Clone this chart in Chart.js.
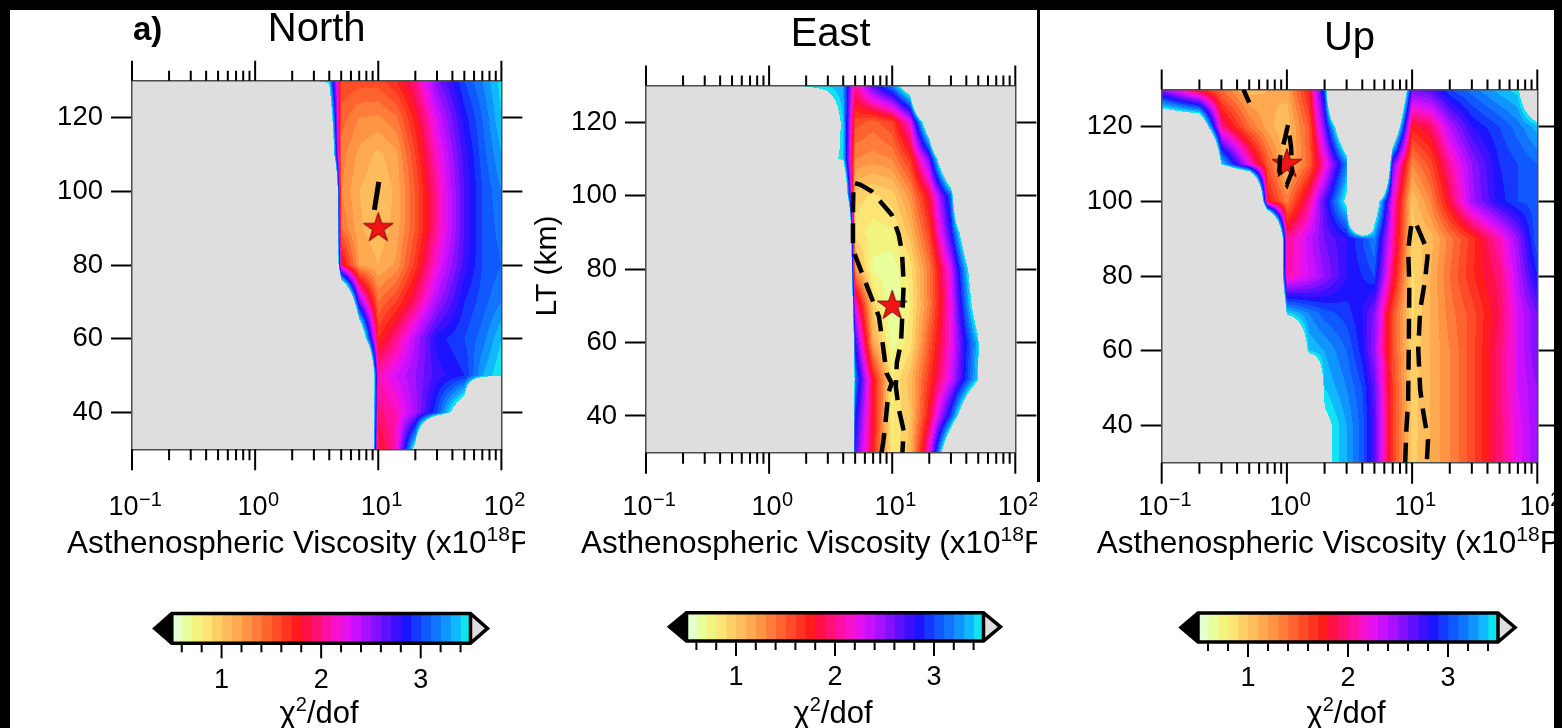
<!DOCTYPE html>
<html>
<head>
<meta charset="utf-8">
<title>Asthenospheric viscosity vs LT misfit</title>
<script src="https://cdn.jsdelivr.net/npm/chart.js"></script>
<style>
  html, body { margin: 0; padding: 0; }
  body { width: 1562px; height: 728px; background: #000; position: relative; overflow: hidden; }
  #sheet { position: absolute; left: 10px; top: 10px; width: 1544px; height: 718px; background: #fff; }
  #divider { position: absolute; left: 1037px; top: 10px; width: 3px; height: 472px; background: #000; }
  canvas { position: absolute; }
</style>
</head>
<body>
<div id="sheet"></div>
<canvas id="north" width="515" height="560" style="left:10px;top:10px"></canvas>
<canvas id="east" width="512" height="560" style="left:525px;top:10px"></canvas>
<canvas id="up" width="514" height="560" style="left:1040px;top:10px"></canvas>
<div id="divider"></div>
<canvas id="cbNorth" width="370" height="133" style="left:140px;top:595px"></canvas>
<canvas id="cbEast" width="370" height="133" style="left:650px;top:595px"></canvas>
<canvas id="cbUp" width="380" height="133" style="left:1160px;top:595px"></canvas>
<script>
const FONT = '"Liberation Sans", Arial, Helvetica, sans-serif';
const G = 9; // above the top of the colour scale -> grey

// grid nodes: viscosity (x10^18 Pa s) and LT (km), rows from top (130) to bottom (30)
const viscNodes = [0.1, 0.2, 0.3, 0.5, 0.7, 1, 1.5, 2, 3, 4, 5, 7, 10, 14, 20, 30, 50, 70, 100];
const ltNodes = [130, 120, 110, 100, 90, 80, 70, 60, 50, 40, 30];

// chi^2/dof
const northChi = [
  [G, G, G, G, G, G, G, 3.55, 3.45, 3.4, 1.6, 1.55, 1.55, 1.7, 2.0, 2.55, 3.0, 3.2, 3.45],
  [G, G, G, G, G, G, G, G, G, 4.2, 1.45, 1.3, 1.28, 1.38, 1.75, 2.3, 2.85, 3.1, 3.4],
  [G, G, G, G, G, G, G, G, G, 5, 1.35, 1.17, 1.07, 1.17, 1.6, 2.15, 2.75, 3.05, 3.3],
  [G, G, G, G, G, G, G, G, G, G, 1.3, 1.1, 1.02, 1.12, 1.5, 2.05, 2.7, 3.0, 3.2],
  [G, G, G, G, G, G, G, G, G, G, 1.4, 1.12, 1.03, 1.14, 1.5, 2.05, 2.7, 3.0, 3.15],
  [G, G, G, G, G, G, G, G, G, G, 1.9, 1.2, 1.1, 1.22, 1.65, 2.2, 2.75, 3.0, 3.1],
  [G, G, G, G, G, G, G, G, G, G, 6, 2.6, 1.4, 1.6, 1.95, 2.45, 2.9, 3.05, 3.2],
  [G, G, G, G, G, G, G, G, G, G, G, 4.5, 1.7, 2.0, 2.4, 2.85, 3.0, 3.15, 3.4],
  [G, G, G, G, G, G, G, G, G, G, G, G, 2.1, 2.3, 2.5, 2.75, 2.9, 3.3, 3.5],
  [G, G, G, G, G, G, G, G, G, G, G, G, 1.95, 2.1, 2.45, 3.0, 4.0, G, G],
  [G, G, G, G, G, G, G, G, G, G, G, G, 1.75, 2.1, 3.7, G, G, G, G]
];
const eastChi = [
  [G, G, G, G, G, 3.45, 3.45, 3.45, 3.4, 3.3, 2.0, 2.7, 3.2, 4.0, G, G, G, G, G],
  [G, G, G, G, G, G, G, 5, 4.0, 3.4, 1.55, 1.45, 1.6, 2.2, 4.2, G, G, G, G],
  [G, G, G, G, G, G, G, G, 3.6, 3.45, 1.3, 1.25, 1.3, 1.65, 2.6, 5.0, G, G, G],
  [G, G, G, G, G, G, G, G, G, 5, 0.95, 0.88, 0.95, 1.25, 1.85, 3.1, G, G, G],
  [G, G, G, G, G, G, G, G, G, G, 0.85, 0.75, 0.78, 1.05, 1.6, 2.8, 5.0, G, G],
  [G, G, G, G, G, G, G, G, G, G, 1.2, 0.68, 0.62, 0.85, 1.35, 2.3, 4.2, G, G],
  [G, G, G, G, G, G, G, G, G, G, 2.2, 0.95, 0.58, 0.8, 1.35, 2.2, 3.9, G, G],
  [G, G, G, G, G, G, G, G, G, G, 2.8, 1.15, 0.65, 0.85, 1.5, 2.2, 3.4, G, G],
  [G, G, G, G, G, G, G, G, G, G, 3.2, 1.8, 0.8, 1.05, 1.65, 2.3, 3.45, G, G],
  [G, G, G, G, G, G, G, G, G, G, 2.9, 1.8, 0.78, 1.0, 1.8, 3.0, 5.0, G, G],
  [G, G, G, G, G, G, G, G, G, G, 2.7, 1.75, 0.8, 1.05, 2.2, 4.5, G, G, G]
];
const upChi = [
  [2.5, 1.7, 1.4, 1.05, 1.1, 1.15, 1.75, 3.0, G, G, G, 6, 2.6, 2.7, 3.0, 3.15, 3.35, 3.45, 4.5],
  [4.5, 4.5, 2.0, 1.4, 1.15, 1.0, 1.5, 2.6, 4.5, G, G, 4.5, 1.75, 1.9, 2.4, 2.8, 3.0, 3.15, 3.35],
  [G, G, 3.45, 2.2, 1.5, 1.0, 1.45, 2.1, 3.2, G, G, 2.6, 1.3, 1.55, 2.05, 2.5, 2.9, 3.0, 3.1],
  [G, G, G, G, 1.8, 1.35, 2.0, 2.7, 3.6, G, 4.0, 2.2, 1.0, 1.3, 1.85, 2.45, 2.85, 3.0, 3.05],
  [G, G, G, G, G, 2.0, 2.35, 2.6, 2.8, 3.0, 3.2, 2.1, 0.95, 1.05, 1.35, 1.65, 2.1, 2.5, 3.1],
  [G, G, G, G, G, 2.05, 2.3, 2.5, 2.8, 2.9, 3.0, 1.9, 0.88, 1.1, 1.4, 1.68, 1.95, 2.4, 2.9],
  [G, G, G, G, G, 3.45, 3.2, 3.05, 2.95, 2.8, 2.55, 1.55, 0.88, 1.1, 1.35, 1.55, 1.9, 2.3, 2.6],
  [G, G, G, G, G, 5, 3.4, 3.3, 3.1, 2.85, 2.5, 1.55, 0.92, 1.1, 1.3, 1.55, 1.95, 2.3, 2.6],
  [G, G, G, G, G, G, 5, 3.4, 3.2, 3.0, 2.65, 1.6, 0.95, 1.1, 1.3, 1.55, 1.95, 2.3, 2.5],
  [G, G, G, G, G, G, G, 3.6, 3.3, 3.05, 2.7, 1.6, 0.95, 1.1, 1.3, 1.55, 1.95, 2.25, 2.5],
  [G, G, G, G, G, G, G, 3.6, 3.3, 3.05, 2.7, 1.6, 0.97, 1.1, 1.3, 1.55, 1.95, 2.25, 2.5]
];

// best-fit models (viscosity, LT)
const northStar = [10, 90];
const eastStar = [10, 70];
const upStar = [1, 110];

// dashed confidence contours as [viscosity, LT] points
const northContours = [
  [[9.3, 95], [10.1, 102.6]]
];
const eastContours = [
  [[8.2, 30], [8.5, 33.5], [8.8, 38], [9.3, 46.2], [9.9, 48.9], [9.0, 51.6], [8.5, 58], [7.8, 67.1],
   [6.4, 74.4], [4.8, 85.3], [4.8, 96], [4.85, 103.5], [5.5, 103], [6.8, 101.2], [9.9, 94.8],
   [11.3, 89.4], [12.0, 84.8], [12.4, 76], [12.1, 68], [11.8, 60], [10.9, 54.5], [10.7, 48],
   [11.3, 42], [12.4, 36], [12.1, 30]]
];
const upContours = [
  [[0.45, 130], [0.5, 126.5]],
  [[1.02, 120.5], [0.95, 116], [0.88, 111.5], [0.87, 108], [1.0, 104.5], [1.1, 108], [1.08, 114.5], [1.02, 120.5]],
  [[8.8, 30], [9.0, 38.8], [9.3, 46.8], [9.4, 60], [9.5, 78], [9.3, 87], [9.9, 94.3], [10.6, 94.5],
   [12.3, 89.4], [13.4, 86.5], [12.7, 79], [11.6, 71], [11.2, 60.3], [11.6, 49.6], [12.3, 43.4],
   [13.4, 36.1], [13.1, 30]]
];

// colour scale: 0.1 wide bands from 0.5 to 3.5
const levels = [0.5, 0.6, 0.7, 0.8, 0.9, 1.0, 1.1, 1.2, 1.3, 1.4, 1.5, 1.6, 1.7, 1.8, 1.9, 2.0,
  2.1, 2.2, 2.3, 2.4, 2.5, 2.6, 2.7, 2.8, 2.9, 3.0, 3.1, 3.2, 3.3, 3.4, 3.5];
const levelColors = ['#e4ffd0', '#e8ff9c', '#f2f480', '#fde474', '#ffd066', '#ffbc5c', '#ffaa50',
  '#ff9444', '#ff7c3a', '#ff6430', '#ff4c28', '#ff3420', '#ff1c1c', '#ff1044', '#ff1072', '#ff10a2',
  '#f810cc', '#e410ee', '#c810ff', '#a810ff', '#8410ff', '#6010ff', '#3c10ff', '#1c14ff', '#1438ff',
  '#1058ff', '#1074ff', '#1094ff', '#10b8ff', '#10e4f0'];

// axis ticks
const viscTicks = [0.1, 0.2, 0.3, 0.4, 0.5, 0.6, 0.7, 0.8, 0.9, 1, 2, 3, 4, 5, 6, 7, 8, 9,
  10, 20, 30, 40, 50, 60, 70, 80, 90, 100];
const viscMajor = [0.1, 1, 10, 100];
const viscExp = ['\u22121', '0', '1', '2'];
const ltTicks = [40, 60, 80, 100, 120];
const cbTicks = [0.6, 0.8, 1, 1.2, 1.4, 1.6, 1.8, 2, 2.2, 2.4, 2.6, 2.8, 3, 3.2, 3.4];
const cbLabels = [1, 2, 3];

Chart.defaults.font.family = FONT;

const levelRgb = levelColors.map(h => [parseInt(h.slice(1, 3), 16), parseInt(h.slice(3, 5), 16), parseInt(h.slice(5, 7), 16)]);
const GREY = [222, 222, 222];

// filled contour field, drawn under the axes
function fieldPlugin(chi) {
  return {
    id: 'field',
    beforeDraw(chart) {
      const a = chart.chartArea, xs = chart.scales.x, ys = chart.scales.y;
      const x0 = Math.floor(a.left), y0 = Math.floor(a.top);
      const w = Math.ceil(a.right) - x0, h = Math.ceil(a.bottom) - y0;
      const off = document.createElement('canvas');
      off.width = w; off.height = h;
      const octx = off.getContext('2d');
      const img = octx.createImageData(w, h);
      const un = viscNodes.map(v => Math.log10(v));
      const ci = [], ct = [];
      for (let px = 0; px < w; px++) {
        const u = Math.log10(xs.getValueForPixel(x0 + px + 0.5));
        let i = 0;
        while (i < un.length - 2 && u > un[i + 1]) i++;
        ci.push(i);
        ct.push(Math.min(1, Math.max(0, (u - un[i]) / (un[i + 1] - un[i]))));
      }
      for (let py = 0; py < h; py++) {
        const lt = ys.getValueForPixel(y0 + py + 0.5);
        let j = 0;
        while (j < ltNodes.length - 2 && lt < ltNodes[j + 1]) j++;
        const s = Math.min(1, Math.max(0, (ltNodes[j] - lt) / (ltNodes[j] - ltNodes[j + 1])));
        const r0 = chi[j], r1 = chi[j + 1];
        for (let px = 0; px < w; px++) {
          const i = ci[px], t = ct[px];
          const top = r0[i] + (r0[i + 1] - r0[i]) * t;
          const bot = r1[i] + (r1[i + 1] - r1[i]) * t;
          const val = top + (bot - top) * s;
          let c;
          if (val >= levels[levels.length - 1]) c = GREY;
          else if (val < levels[0]) c = [0, 0, 0];
          else {
            let k = 0;
            while (k < levelRgb.length - 1 && val >= levels[k + 1]) k++;
            c = levelRgb[k];
          }
          const o = (py * w + px) * 4;
          img.data[o] = c[0]; img.data[o + 1] = c[1]; img.data[o + 2] = c[2]; img.data[o + 3] = 255;
        }
      }
      octx.putImageData(img, 0, 0);
      const ctx = chart.ctx;
      ctx.save();
      ctx.beginPath();
      ctx.rect(a.left, a.top, a.right - a.left, a.bottom - a.top);
      ctx.clip();
      ctx.drawImage(off, x0, y0);
      ctx.restore();
    }
  };
}

// log ticks, 10^n labels and titles
function textPlugin(cfg) {
  return {
    id: 'panelText',
    afterDraw(chart) {
      const ctx = chart.ctx, a = chart.chartArea, xs = chart.scales.x;
      ctx.save();
      ctx.strokeStyle = '#000';
      ctx.lineWidth = 2;
      viscTicks.forEach(v => {
        const px = xs.getPixelForValue(v);
        const major = viscMajor.includes(v);
        ctx.beginPath();
        ctx.moveTo(px, a.bottom);
        ctx.lineTo(px, a.bottom + (major ? 21 : 11));
        ctx.moveTo(px, a.top);
        ctx.lineTo(px, a.top - (major ? 20 : 10));
        ctx.stroke();
      });

      ctx.fillStyle = '#000';
      ctx.textBaseline = 'alphabetic';
      ctx.textAlign = 'left';
      viscMajor.forEach((v, k) => {
        const px = xs.getPixelForValue(v) + 3;
        ctx.font = '27px ' + FONT;
        const w1 = ctx.measureText('10').width;
        ctx.font = '20px ' + FONT;
        const w2 = ctx.measureText(viscExp[k]).width;
        const x0 = px - (w1 + w2) / 2;
        ctx.font = '27px ' + FONT;
        ctx.fillText('10', x0, 504.5);
        ctx.font = '20px ' + FONT;
        ctx.fillText(viscExp[k], x0 + w1 + 0.5, 495.5);
      });

      // x axis title (runs off the right edge of each panel, as in the figure)
      const parts = [['Asthenospheric Viscosity (x10', 31.5, 0], ['18', 21, -11.5], ['Pa s)', 31.5, 0]];
      let tx = a.left - 65;
      parts.forEach(p => {
        ctx.font = p[1] + 'px ' + FONT;
        ctx.fillText(p[0], tx, 542.5 + p[2]);
        tx += ctx.measureText(p[0]).width;
      });

      // panel title
      ctx.font = '40px ' + FONT;
      ctx.textAlign = 'center';
      ctx.fillText(cfg.title, (a.left + a.right) / 2, cfg.titleBase);
      if (cfg.tag) {
        ctx.font = 'bold 33px ' + FONT;
        ctx.textAlign = 'left';
        ctx.fillText(cfg.tag, 123, 30);
      }
      if (cfg.yTitle) {
        ctx.save();
        ctx.translate(31, 256);
        ctx.rotate(-Math.PI / 2);
        ctx.font = '30px ' + FONT;
        ctx.textAlign = 'center';
        ctx.fillText(cfg.yTitle, 0, 0);
        ctx.restore();
      }
      ctx.restore();
    }
  };
}

function makeStar() {
  const c = document.createElement('canvas');
  c.width = 34; c.height = 34;
  const g = c.getContext('2d');
  g.beginPath();
  for (let k = 0; k < 10; k++) {
    const r = k % 2 ? 5.9 : 15.5;
    const ang = -Math.PI / 2 + k * Math.PI / 5;
    const px = 17 + r * Math.cos(ang), py = 17 + r * Math.sin(ang);
    if (k) g.lineTo(px, py); else g.moveTo(px, py);
  }
  g.closePath();
  g.fillStyle = '#f21414';
  g.fill();
  g.strokeStyle = '#6e0000';
  g.lineWidth = 1;
  g.stroke();
  return c;
}
const starImg = makeStar();

function drawPanel(cfg) {
  const axisBorder = { display: true, color: '#4d4d4d', width: 1.5 };
  const setTicks = vals => scale => { scale.ticks = vals.map(v => ({ value: v })); };
  const datasets = cfg.contours.map(c => ({
    data: c.map(p => ({ x: p[0], y: p[1] })),
    showLine: true,
    borderColor: '#000',
    borderWidth: cfg.lineWidth,
    borderDash: cfg.dash,
    borderCapStyle: 'butt',
    pointRadius: 0,
    fill: false,
    tension: 0
  }));
  datasets.push({
    data: [{ x: cfg.star[0], y: cfg.star[1] }],
    pointStyle: starImg,
    pointRadius: 15,
    showLine: false
  });

  new Chart(document.getElementById(cfg.canvas), {
    type: 'scatter',
    data: { datasets: datasets },
    options: {
      responsive: false,
      animation: false,
      events: [],
      layout: { padding: 0, autoPadding: false },
      plugins: { legend: { display: false }, tooltip: { enabled: false } },
      scales: {
        x: {
          type: 'logarithmic', position: 'bottom', min: 0.1, max: 100,
          afterBuildTicks: setTicks(viscTicks),
          afterFit: s => { s.height = cfg.box.bottom; },
          grid: { drawOnChartArea: false, drawTicks: false },
          border: axisBorder,
          ticks: { display: false }
        },
        x2: {
          type: 'logarithmic', position: 'top', min: 0.1, max: 100,
          afterBuildTicks: setTicks(viscTicks),
          afterFit: s => { s.height = cfg.box.top; },
          grid: { drawOnChartArea: false, drawTicks: false },
          border: axisBorder,
          ticks: { display: false }
        },
        y: {
          type: 'linear', position: 'left', min: 30, max: 130,
          afterBuildTicks: setTicks(ltTicks),
          afterFit: s => { s.width = cfg.box.left; },
          grid: { drawOnChartArea: false, drawTicks: true, tickLength: 21, tickWidth: 2, tickColor: '#000' },
          border: axisBorder,
          ticks: { color: '#000', font: { family: FONT, size: 27.5 }, padding: 8 }
        },
        y2: {
          type: 'linear', position: 'right', min: 30, max: 130,
          afterBuildTicks: setTicks(ltTicks),
          afterFit: s => { s.width = cfg.box.right; },
          grid: { drawOnChartArea: false, drawTicks: true, tickLength: 21, tickWidth: 2, tickColor: '#000' },
          border: axisBorder,
          ticks: { display: false }
        }
      }
    },
    plugins: [fieldPlugin(cfg.chi), textPlugin(cfg)]
  });
}

function colorbarPlugin(cb) {
  return {
    id: 'cbFrame',
    afterDraw(chart) {
      const ctx = chart.ctx, a = chart.chartArea, xs = chart.scales.x;
      const x0 = xs.getPixelForValue(levels[0]);
      const x1 = xs.getPixelForValue(levels[levels.length - 1]);
      const y0 = a.top, y1 = a.bottom, ym = (y0 + y1) / 2;
      ctx.save();
      ctx.fillStyle = '#000';
      ctx.beginPath();
      ctx.moveTo(x0, y0); ctx.lineTo(x0 - 17, ym); ctx.lineTo(x0, y1); ctx.closePath();
      ctx.fill();
      ctx.fillStyle = '#dedede';
      ctx.beginPath();
      ctx.moveTo(x1, y0); ctx.lineTo(x1 + 17, ym); ctx.lineTo(x1, y1); ctx.closePath();
      ctx.fill();
      ctx.strokeStyle = '#000';
      ctx.lineWidth = 3.5;
      ctx.lineJoin = 'miter';
      ctx.beginPath();
      ctx.moveTo(x0, y0); ctx.lineTo(x1, y0); ctx.lineTo(x1 + 17, ym); ctx.lineTo(x1, y1);
      ctx.lineTo(x0, y1); ctx.lineTo(x0 - 17, ym); ctx.closePath();
      ctx.moveTo(x0, y0); ctx.lineTo(x0, y1);
      ctx.moveTo(x1, y0); ctx.lineTo(x1, y1);
      ctx.stroke();

      ctx.lineWidth = 2;
      cbTicks.forEach(v => {
        const px = xs.getPixelForValue(v);
        ctx.beginPath();
        ctx.moveTo(px, y1 + 1.5);
        ctx.lineTo(px, y1 + (cbLabels.includes(v) ? 15 : 9));
        ctx.stroke();
      });
      ctx.fillStyle = '#000';
      ctx.textAlign = 'center';
      ctx.textBaseline = 'alphabetic';
      ctx.font = '27px ' + FONT;
      cbLabels.forEach(v => ctx.fillText(String(v), xs.getPixelForValue(v), cb.labelBase));

      const parts = [['\u03c7', 31, 0], ['2', 20, -12], ['/dof', 31, 0]];
      let total = 0;
      parts.forEach(p => { ctx.font = p[1] + 'px ' + FONT; total += ctx.measureText(p[0]).width; });
      let tx = (x0 + x1) / 2 - 2 - total / 2;
      ctx.textAlign = 'left';
      parts.forEach(p => {
        ctx.font = p[1] + 'px ' + FONT;
        ctx.fillText(p[0], tx, cb.titleBase + p[2]);
        tx += ctx.measureText(p[0]).width;
      });
      ctx.restore();
    }
  };
}

function drawColorbar(cb) {
  new Chart(document.getElementById(cb.canvas), {
    type: 'bar',
    data: {
      labels: [''],
      datasets: levelColors.map((col, k) => ({
        data: [[levels[k], levels[k + 1]]],
        backgroundColor: col,
        borderWidth: 0,
        grouped: false,
        barPercentage: 1,
        categoryPercentage: 1
      }))
    },
    options: {
      indexAxis: 'y',
      responsive: false,
      animation: false,
      events: [],
      layout: { padding: cb.pad, autoPadding: false },
      plugins: { legend: { display: false }, tooltip: { enabled: false } },
      scales: {
        x: { type: 'linear', min: levels[0], max: levels[levels.length - 1], display: false },
        y: { display: false }
      }
    },
    plugins: [colorbarPlugin(cb)]
  });
}

const panels = [
  { canvas: 'north', title: 'North', tag: 'a)', chi: northChi, star: northStar, contours: northContours,
    dash: [], lineWidth: 5, titleBase: 31, box: { left: 122, right: 23.6, top: 70.8, bottom: 120.7 } },
  { canvas: 'east', title: 'East', yTitle: 'LT (km)', chi: eastChi, star: eastStar, contours: eastContours,
    dash: [20, 11], lineWidth: 4.5, titleBase: 35.5, box: { left: 121, right: 21.7, top: 75.5, bottom: 117.3 } },
  { canvas: 'up', title: 'Up', chi: upChi, star: upStar, contours: upContours,
    dash: [20, 11], lineWidth: 4.5, titleBase: 40, box: { left: 121.7, right: 16.7, top: 79.5, bottom: 107.3 } }
];
const colorbars = [
  { canvas: 'cbNorth', pad: { left: 31.8, right: 39.5, top: 18.5, bottom: 84.7 }, labelBase: 92.5, titleBase: 127.5 },
  { canvas: 'cbEast', pad: { left: 36.5, right: 36.5, top: 17.7, bottom: 87 }, labelBase: 90, titleBase: 127.5 },
  { canvas: 'cbUp', pad: { left: 38, right: 42, top: 18, bottom: 86 }, labelBase: 91, titleBase: 127.5 }
];

panels.forEach(drawPanel);
colorbars.forEach(drawColorbar);
</script>
</body>
</html>
